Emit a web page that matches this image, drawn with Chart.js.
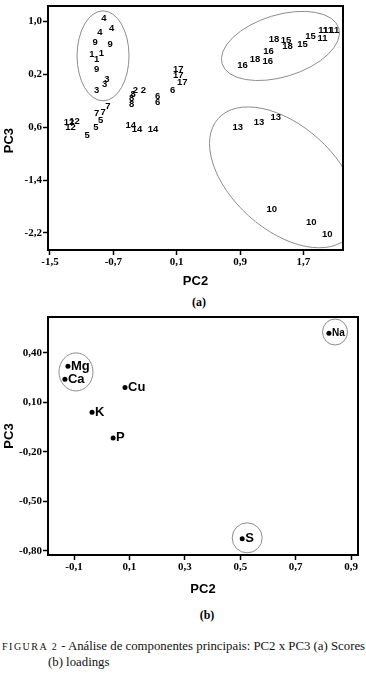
<!DOCTYPE html>
<html lang="pt">
<head>
<meta charset="utf-8">
<title>PC2 x PC3 - scores e loadings</title>
<script src="https://cdn.jsdelivr.net/npm/chart.js@4.4.1/dist/chart.umd.min.js"></script>
<style>
    body { margin: 0; background: #fff; width: 366px; height: 677px; position: relative; overflow: hidden; }
    canvas { position: absolute; left: 0; }
    #scores { top: 0; }
    #loadings { top: 310px; }
    .sub { position: absolute; font: bold 12px "Liberation Serif", serif; transform: translateX(-50%); line-height: 14px; }
    .caption { position: absolute; font: 12.8px "Liberation Serif", serif; line-height: 15px; white-space: nowrap; color: #111; }
    .figlabel { font-size: 10px; letter-spacing: 1.5px; margin-right: 3px; }
</style>
</head>
<body>
<canvas id="scores" width="366" height="292"></canvas>
<canvas id="loadings" width="366" height="292"></canvas>
<div class="sub" style="left:199px; top:295px">(a)</div>
<div class="sub" style="left:207px; top:608px">(b)</div>
<div class="caption" style="left:2px; top:639px"><span class="figlabel">FIGURA 2</span>- Análise de componentes principais: PC2 x PC3 (a) Scores</div>
<div class="caption" style="left:48px; top:655px">(b) loadings</div>

<script>
// --- Data: (a) scores, one label per sample ---
const scoreLabels = ['4', '4', '4', '9', '9', '1', '1', '1', '9', '3', '3', '3',
    '2', '2', '8', '8', '8', '6', '6', '6', '17', '17', '17',
    '7', '7', '7', '5', '5', '5', '12', '12', '12', '14', '14', '14',
    '18', '15', '18', '15', '15', '11', '11', '11', '11', '16', '18', '16', '16',
    '13', '13', '13', '10', '10', '10'];
const scorePC2 = [-0.82, -0.72, -0.87, -0.93, -0.74, -0.97, -0.85, -0.91, -0.91, -0.78, -0.81, -0.91,
    -0.42, -0.32, -0.45, -0.47, -0.47, -0.14, -0.14, 0.05, 0.12, 0.12, 0.17,
    -0.77, -0.83, -0.91, -0.86, -0.92, -1.03, -1.26, -1.19, -1.24, -0.48, -0.40, -0.20,
    1.33, 1.48, 1.50, 1.69, 1.79, 1.94, 1.95, 2.01, 2.09, 1.26, 1.09, 1.25, 0.93,
    0.87, 1.14, 1.35, 1.30, 1.80, 2.00];
const scorePC3 = [1.05, 0.89, 0.83, 0.69, 0.66, 0.51, 0.52, 0.43, 0.28, 0.13, 0.05, -0.04,
    -0.04, -0.05, -0.11, -0.17, -0.25, -0.13, -0.22, -0.05, 0.27, 0.19, 0.08,
    -0.28, -0.37, -0.39, -0.49, -0.60, -0.72, -0.52, -0.51, -0.60, -0.58, -0.63, -0.63,
    0.73, 0.72, 0.63, 0.66, 0.78, 0.75, 0.86, 0.86, 0.86, 0.55, 0.43, 0.39, 0.34,
    -0.61, -0.52, -0.45, -1.84, -2.04, -2.22];
const scoreXTicks = [-1.5, -0.7, 0.1, 0.9, 1.7];
const scoreXTickText = ['-1,5', '-0,7', '0,1', '0,9', '1,7'];
const scoreYTicks = [1.0, 0.2, -0.6, -1.4, -2.2];
const scoreYTickText = ['1,0', '0,2', '0,6', '-1,4', '-2,2'];

// --- Data: (b) loadings ---
const loadingNames = ['Mg', 'Ca', 'Cu', 'K', 'P', 'Na', 'S'];
const loadingPC2 = [-0.122, -0.133, 0.084, -0.035, 0.041, 0.82, 0.507];
const loadingPC3 = [0.32, 0.24, 0.19, 0.04, -0.115, 0.52, -0.727];
const loadingXTicks = [-0.1, 0.1, 0.3, 0.5, 0.7, 0.9];
const loadingXTickText = ['-0,1', '0,1', '0,3', '0,5', '0,7', '0,9'];
const loadingYTicks = [0.4, 0.1, -0.2, -0.5, -0.8];
const loadingYTickText = ['0,40', '0,10', '-0,20', '-0,50', '-0,80'];

// --- Small plugins ---
// text next to / on top of every point
const textLabels = {
    id: 'textLabels',
    afterDatasetsDraw(chart, args, opts) {
        const ctx = chart.ctx;
        chart.data.datasets.forEach((ds, i) => {
            const meta = chart.getDatasetMeta(i);
            ctx.save();
            ctx.fillStyle = '#000';
            ctx.textAlign = opts.align;
            ctx.textBaseline = 'middle';
            meta.data.forEach((pt, j) => {
                const name = ds.names[j];
                // Na is squeezed inside its circle in the original
                ctx.font = (opts.small || []).includes(name) ? opts.smallFont : opts.font;
                ctx.fillText(name, pt.x + opts.offset, pt.y);
            });
            ctx.restore();
        });
    }
};

// grey group outlines, centre in data units, radii in px
const groupEllipses = {
    id: 'groupEllipses',
    beforeDatasetsDraw(chart, args, opts) {
        const { ctx, chartArea, scales } = chart;
        ctx.save();
        ctx.beginPath();
        ctx.rect(chartArea.left, chartArea.top, chartArea.width, chartArea.height);
        ctx.clip();
        ctx.strokeStyle = '#8c8c8c';
        ctx.lineWidth = 1;
        (opts.items || []).forEach(e => {
            ctx.beginPath();
            ctx.ellipse(scales.x.getPixelForValue(e.x), scales.y.getPixelForValue(e.y),
                e.rx, e.ry, e.angle * Math.PI / 180, 0, Math.PI * 2);
            ctx.stroke();
        });
        ctx.restore();
    }
};

// top and right edges of the box
const frame = {
    id: 'frame',
    afterDraw(chart) {
        const { ctx, chartArea: a } = chart;
        ctx.save();
        ctx.strokeStyle = '#000';
        ctx.lineWidth = 2;
        ctx.beginPath();
        ctx.moveTo(a.left, a.top);
        ctx.lineTo(a.right, a.top);
        ctx.lineTo(a.right, a.bottom);
        ctx.stroke();
        ctx.restore();
    }
};

const tickFont = { family: '"Liberation Serif", "Times New Roman", serif', size: 11, weight: 'bold' };
const titleFont = { family: '"Liberation Sans", Arial, sans-serif', size: 13, weight: 'bold' };

function makeAxis(min, max, ticks, tickText, title, horizontal, size, titlePad) {
    return {
        type: 'linear',
        min: min,
        max: max,
        afterBuildTicks: (scale) => {
            scale.ticks = ticks.map(v => ({ value: v }));
        },
        afterFit: (scale) => {
            if (horizontal) {
                scale.height = size;
                scale.paddingLeft = 0;
                scale.paddingRight = 0;
            } else {
                scale.width = size;
                scale.paddingTop = 0;
                scale.paddingBottom = 0;
            }
        },
        ticks: {
            autoSkip: false,
            maxRotation: 0,
            padding: 1,
            color: '#000',
            font: tickFont,
            callback: (value) => tickText[ticks.indexOf(value)]
        },
        grid: { drawOnChartArea: false, drawTicks: true, tickLength: 5, tickWidth: 1.5, color: '#000' },
        border: { display: true, color: '#000', width: 2 },
        title: { display: true, text: title, color: '#000', font: titleFont, padding: titlePad }
    };
}

// --- (a) Scores ---
new Chart(document.getElementById('scores'), {
    type: 'scatter',
    data: {
        datasets: [{
            data: scorePC2.map((x, i) => ({ x: x, y: scorePC3[i] })),
            names: scoreLabels,
            pointRadius: 0
        }]
    },
    options: {
        responsive: false,
        animation: false,
        events: [],
        devicePixelRatio: 1,
        layout: { padding: { top: 6, right: 23, left: 0, bottom: 0 } },
        plugins: {
            legend: { display: false },
            tooltip: { enabled: false },
            textLabels: { font: 'bold 9.5px "Liberation Sans", Arial, sans-serif', align: 'center', offset: 0 },
            groupEllipses: {
                items: [
                    { x: -0.83, y: 0.48, rx: 26, ry: 45, angle: 0 },
                    { x: 1.41, y: 0.63, rx: 61, ry: 31, angle: -17 },
                    { x: 1.45, y: -1.36, rx: 88, ry: 52, angle: 42 }
                ]
            }
        },
        scales: {
            x: makeAxis(-1.525, 2.2, scoreXTicks, scoreXTickText, 'PC2', true, 42, { top: 0, bottom: 3 }),
            y: makeAxis(-2.46, 1.235, scoreYTicks, scoreYTickText, 'PC3' + '\u00a0'.repeat(7), false, 48, { top: 2, bottom: 0 })
        }
    },
    plugins: [groupEllipses, textLabels, frame]
});

// --- (b) Loadings ---
new Chart(document.getElementById('loadings'), {
    type: 'scatter',
    data: {
        datasets: [{
            data: loadingPC2.map((x, i) => ({ x: x, y: loadingPC3[i] })),
            names: loadingNames,
            pointRadius: 2.5,
            pointBackgroundColor: '#000',
            pointBorderWidth: 0
        }]
    },
    options: {
        responsive: false,
        animation: false,
        events: [],
        devicePixelRatio: 1,
        layout: { padding: { top: 7, right: 8, left: 0, bottom: 0 } },
        plugins: {
            legend: { display: false },
            tooltip: { enabled: false },
            textLabels: {
                font: 'bold 13px "Liberation Sans", Arial, sans-serif',
                smallFont: 'bold 10px "Liberation Sans", Arial, sans-serif',
                small: ['Na'],
                align: 'left',
                offset: 3
            },
            groupEllipses: {
                items: [
                    { x: -0.093, y: 0.285, rx: 17, ry: 19, angle: 0 },
                    { x: 0.842, y: 0.527, rx: 12.5, ry: 13, angle: 0 },
                    { x: 0.525, y: -0.721, rx: 15, ry: 15, angle: 0 }
                ]
            }
        },
        scales: {
            x: makeAxis(-0.194, 0.925, loadingXTicks, loadingXTickText, 'PC2', true, 47, { top: 0, bottom: 5 }),
            y: makeAxis(-0.825, 0.618, loadingYTicks, loadingYTickText, 'PC3', false, 48, { top: 2, bottom: 0 })
        }
    },
    plugins: [groupEllipses, textLabels, frame]
});
</script>
</body>
</html>
